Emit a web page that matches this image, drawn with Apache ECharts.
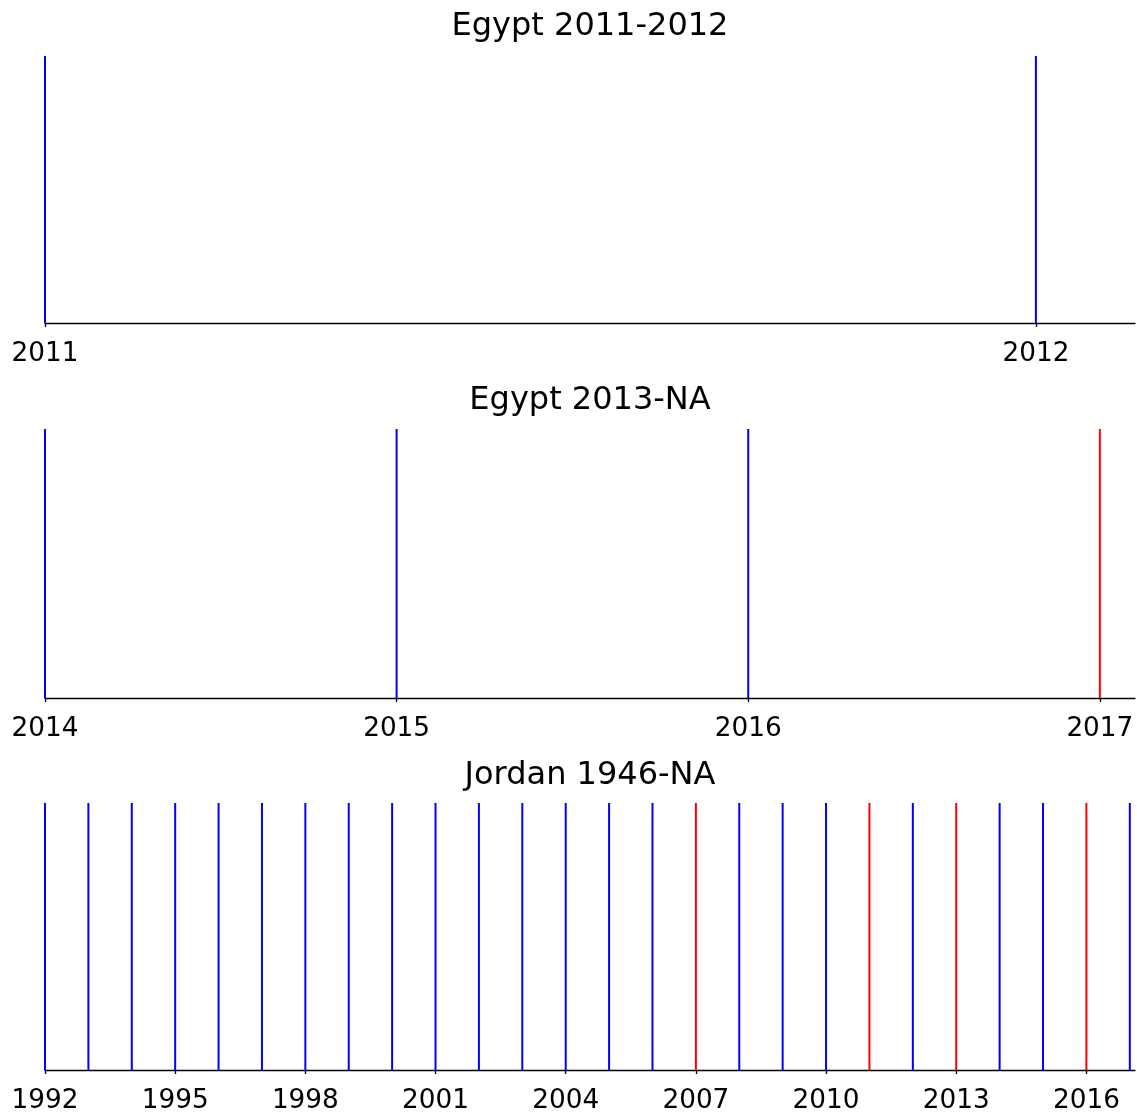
<!DOCTYPE html>
<html>
<head>
<meta charset="utf-8">
<script src="https://cdn.jsdelivr.net/npm/echarts@6/dist/echarts.min.js"></script>
<style>
	html, body { margin: 0; padding: 0; background: #fff; }
	#chart { width: 1137px; height: 1120px; }
</style>
</head>
<body>
<div id="chart"></div>
<script>
// 三个面板的数据
var titles = ['Egypt 2011-2012', 'Egypt 2013-NA', 'Jordan 1946-NA'];

var egypt1Blue = [2011, 2012];
var egypt1Red = [];
var egypt1Ticks = [2011, 2012];

var egypt2Blue = [2014, 2015, 2016];
var egypt2Red = [2017];
var egypt2Ticks = [2014, 2015, 2016, 2017];

var jordanBlue = [1992, 1993, 1994, 1995, 1996, 1997, 1998, 1999, 2000, 2001, 2002, 2003, 2004,
	2005, 2006, 2008, 2009, 2010, 2012, 2014, 2015, 2017];
var jordanRed = [2007, 2011, 2013, 2016];
var jordanTicks = [1992, 1995, 1998, 2001, 2004, 2007, 2010, 2013, 2016];

var panels = [
	{ blue: egypt1Blue, red: egypt1Red, ticks: egypt1Ticks, min: 2011, max: 2012.1 },
	{ blue: egypt2Blue, red: egypt2Red, ticks: egypt2Ticks, min: 2014, max: 2017.1 },
	{ blue: jordanBlue, red: jordanRed, ticks: jordanTicks, min: 1992, max: 2017.12 }
];

// 布局
var gridTops = [56, 429, 803];
var gridHeights = [267, 269, 267];
var titleTops = [11, 385, 760];
var fontFamily = 'DejaVu Sans';

var toBars = function(years) {
	return years.map(function(y) {
		return [y, 1];
	});
};

var option = {
	animation: false,
	backgroundColor: '#fff',
	title: [],
	grid: [],
	xAxis: [],
	yAxis: [],
	series: []
};

panels.forEach(function(p, i) {
	option.title.push({
		text: titles[i],
		left: 590,
		top: titleTops[i],
		textAlign: 'center',
		padding: 0,
		textStyle: {
			fontFamily: fontFamily,
			fontSize: 32,
			fontWeight: 'normal',
			color: '#000'
		}
	});
	option.grid.push({
		left: 45,
		right: 2,
		top: gridTops[i],
		height: gridHeights[i]
	});
	option.xAxis.push({
		gridIndex: i,
		type: 'value',
		min: p.min,
		max: p.max,
		splitLine: { show: false },
		axisLine: {
			show: true,
			onZero: false,
			lineStyle: { color: '#000', width: 1.3 }
		},
		axisTick: {
			show: true,
			length: 4,
			customValues: p.ticks,
			lineStyle: { color: '#000', width: 1.3 }
		},
		axisLabel: {
			customValues: p.ticks,
			margin: 18,
			fontFamily: fontFamily,
			fontSize: 26.3,
			color: '#000',
			formatter: function(v) {
				return String(v);
			}
		}
	});
	option.yAxis.push({
		gridIndex: i,
		type: 'value',
		min: 0,
		max: 1,
		show: false
	});
	option.series.push({
		type: 'bar',
		xAxisIndex: i,
		yAxisIndex: i,
		barWidth: 2,
		clip: false,
		itemStyle: { color: '#0000ff' },
		data: toBars(p.blue)
	});
	option.series.push({
		type: 'bar',
		xAxisIndex: i,
		yAxisIndex: i,
		barWidth: 2,
		barGap: '-100%',
		clip: false,
		itemStyle: { color: '#ff0000' },
		data: toBars(p.red)
	});
});

var chart = echarts.init(document.getElementById('chart'));
chart.setOption(option);
</script>
</body>
</html>
